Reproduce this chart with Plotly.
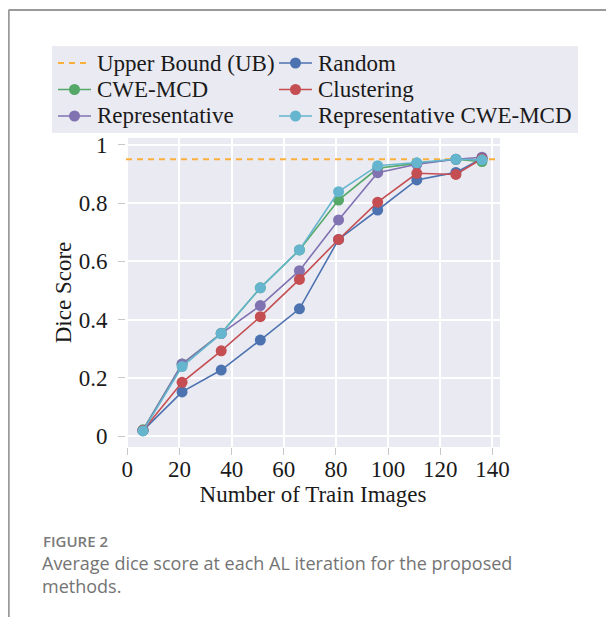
import plotly.graph_objects as go

# ---- data ----
train_images = [6, 21, 36, 51, 66, 81, 96, 111, 126, 136]
upper_bound = 0.95
random_scores = [0.019, 0.152, 0.227, 0.330, 0.437, 0.675, 0.776, 0.879, 0.905, 0.953]
clustering_scores = [0.020, 0.185, 0.293, 0.410, 0.538, 0.675, 0.803, 0.902, 0.898, 0.952]
representative_scores = [0.020, 0.248, 0.352, 0.448, 0.568, 0.742, 0.904, 0.933, 0.950, 0.957]
cwe_mcd_scores = [0.022, 0.248, 0.353, 0.509, 0.639, 0.810, 0.919, 0.936, 0.950, 0.942]
rep_cwe_mcd_scores = [0.018, 0.239, 0.352, 0.509, 0.639, 0.839, 0.928, 0.938, 0.950, 0.948]
x_ticks = [0, 20, 40, 60, 80, 100, 120, 140]
y_ticks = [0, 0.2, 0.4, 0.6, 0.8, 1]
y_tick_labels = ["0", "0.2", "0.4", "0.6", "0.8", "1"]

x_range = [-0.5, 142.9]
y_range = [-0.037, 1.023]

SERIF = "Liberation Serif, Times New Roman, serif"
FS = 23
UB_COLOR = "#FBB03B"

fig = go.Figure()

fig.add_trace(go.Scatter(
    x=x_range, y=[upper_bound, upper_bound], mode="lines", name="Upper Bound (UB)",
    line=dict(color=UB_COLOR, width=2, dash="6px,5px")))

# drawing order (last on top)
series = [
    ("CWE-MCD", cwe_mcd_scores, "#55A868"),
    ("Representative", representative_scores, "#8172B2"),
    ("Random", random_scores, "#4C72B0"),
    ("Clustering", clustering_scores, "#C44E52"),
    ("Representative CWE-MCD", rep_cwe_mcd_scores, "#64B5CD"),
]
for name, ys, col in series:
    fig.add_trace(go.Scatter(
        x=train_images, y=ys, mode="lines+markers", name=name,
        line=dict(color=col, width=1.6),
        marker=dict(color=col, size=11)))

# page geometry (browser body adds an 8px offset)
OFF = 8
W, H = 614 - OFF, 617 - OFF
L, R, T, B = 126, 500, 138, 447  # plot area in page pixels


def px(x):
    return (x - L) / (R - L)


def py(y):
    return (B - y) / (B - T)


shapes = [
    dict(type="line", xref="paper", yref="paper", x0=px(8.5), x1=px(620), y0=py(10), y1=py(10),
         line=dict(color="#9a9a9a", width=2)),
    dict(type="line", xref="paper", yref="paper", x0=px(8.5), x1=px(8.5), y0=py(10), y1=py(630),
         line=dict(color="#9a9a9a", width=2.5)),
    # legend background
    dict(type="rect", xref="paper", yref="paper", x0=px(52), x1=px(578), y0=py(46), y1=py(133),
         fillcolor="#EAEAF2", line=dict(width=0), layer="above"),
]

annotations = []

# manual legend, matplotlib-style 2 columns (column-major order)
legend_entries = [("Upper Bound (UB)", UB_COLOR, True)] + [(n, c, False) for n, _, c in series]
legend_order = ["Upper Bound (UB)", "CWE-MCD", "Representative",
                "Random", "Clustering", "Representative CWE-MCD"]
entry_map = {n: (c, d) for n, c, d in legend_entries}
row_y = [63, 89.5, 116]
col_x = [58, 279]
for i, name in enumerate(legend_order):
    col, dashed = entry_map[name]
    cx = col_x[i // 3]
    ry = row_y[i % 3]
    shapes.append(dict(type="line", xref="paper", yref="paper", x0=px(cx), x1=px(cx + 33),
                       y0=py(ry), y1=py(ry), layer="above",
                       line=dict(color=col, width=2 if dashed else 1.6,
                                 dash="6px,5px" if dashed else "solid")))
    if not dashed:
        r = 5.5
        shapes.append(dict(type="circle", xref="paper", yref="paper",
                           x0=px(cx + 16.5 - r), x1=px(cx + 16.5 + r),
                           y0=py(ry - r), y1=py(ry + r), fillcolor=col,
                           line=dict(width=0), layer="above"))
    annotations.append(dict(text=name, xref="paper", yref="paper", x=px(cx + 37), y=py(ry),
                            xanchor="left", yanchor="middle", showarrow=False,
                            font=dict(family=SERIF, size=FS, color="#1a1a1a")))

annotations += [
    dict(text="FIGURE 2", xref="paper", yref="paper", x=px(41), y=py(541), xanchor="left",
         yanchor="middle", showarrow=False,
         font=dict(family="Open Sans, Noto Sans, sans-serif", size=15, color="#7a7a7a", weight=600)),
    dict(text="Average dice score at each AL iteration for the proposed<br>methods.",
         xref="paper", yref="paper", x=px(40), y=py(549), xanchor="left", yanchor="top",
         align="left", showarrow=False,
         font=dict(family="Open Sans, Noto Sans, sans-serif", size=18, color="#747474")),
]

fig.update_layout(
    width=W, height=H,
    margin=dict(l=L - OFF, r=W - (R - OFF), t=T - OFF, b=H - (B - OFF)),
    paper_bgcolor="white",
    plot_bgcolor="#EAEAF2",
    font=dict(family=SERIF, size=FS, color="#1a1a1a"),
    showlegend=False,
    shapes=shapes,
    annotations=annotations,
    xaxis=dict(
        range=x_range, tickvals=x_ticks, showgrid=True, gridcolor="white", gridwidth=1.5,
        zeroline=False, showline=False, ticks="outside", ticklen=7, tickcolor="#c8c8c8",
        tickwidth=1, ticklabelstandoff=-6, tickfont=dict(family=SERIF, size=FS),
        title=dict(text="Number of Train Images", font=dict(family=SERIF, size=FS), standoff=4),
    ),
    yaxis=dict(
        range=y_range, tickvals=y_ticks, ticktext=y_tick_labels, showgrid=True,
        gridcolor="white", gridwidth=1.5, zeroline=False, showline=False, ticks="outside",
        ticklen=7, tickcolor="#c8c8c8", tickwidth=1, ticklabelstandoff=6,
        tickfont=dict(family=SERIF, size=FS),
        title=dict(text="Dice Score", font=dict(family=SERIF, size=FS), standoff=0),
    ),
)

fig.write_html("out.html")
